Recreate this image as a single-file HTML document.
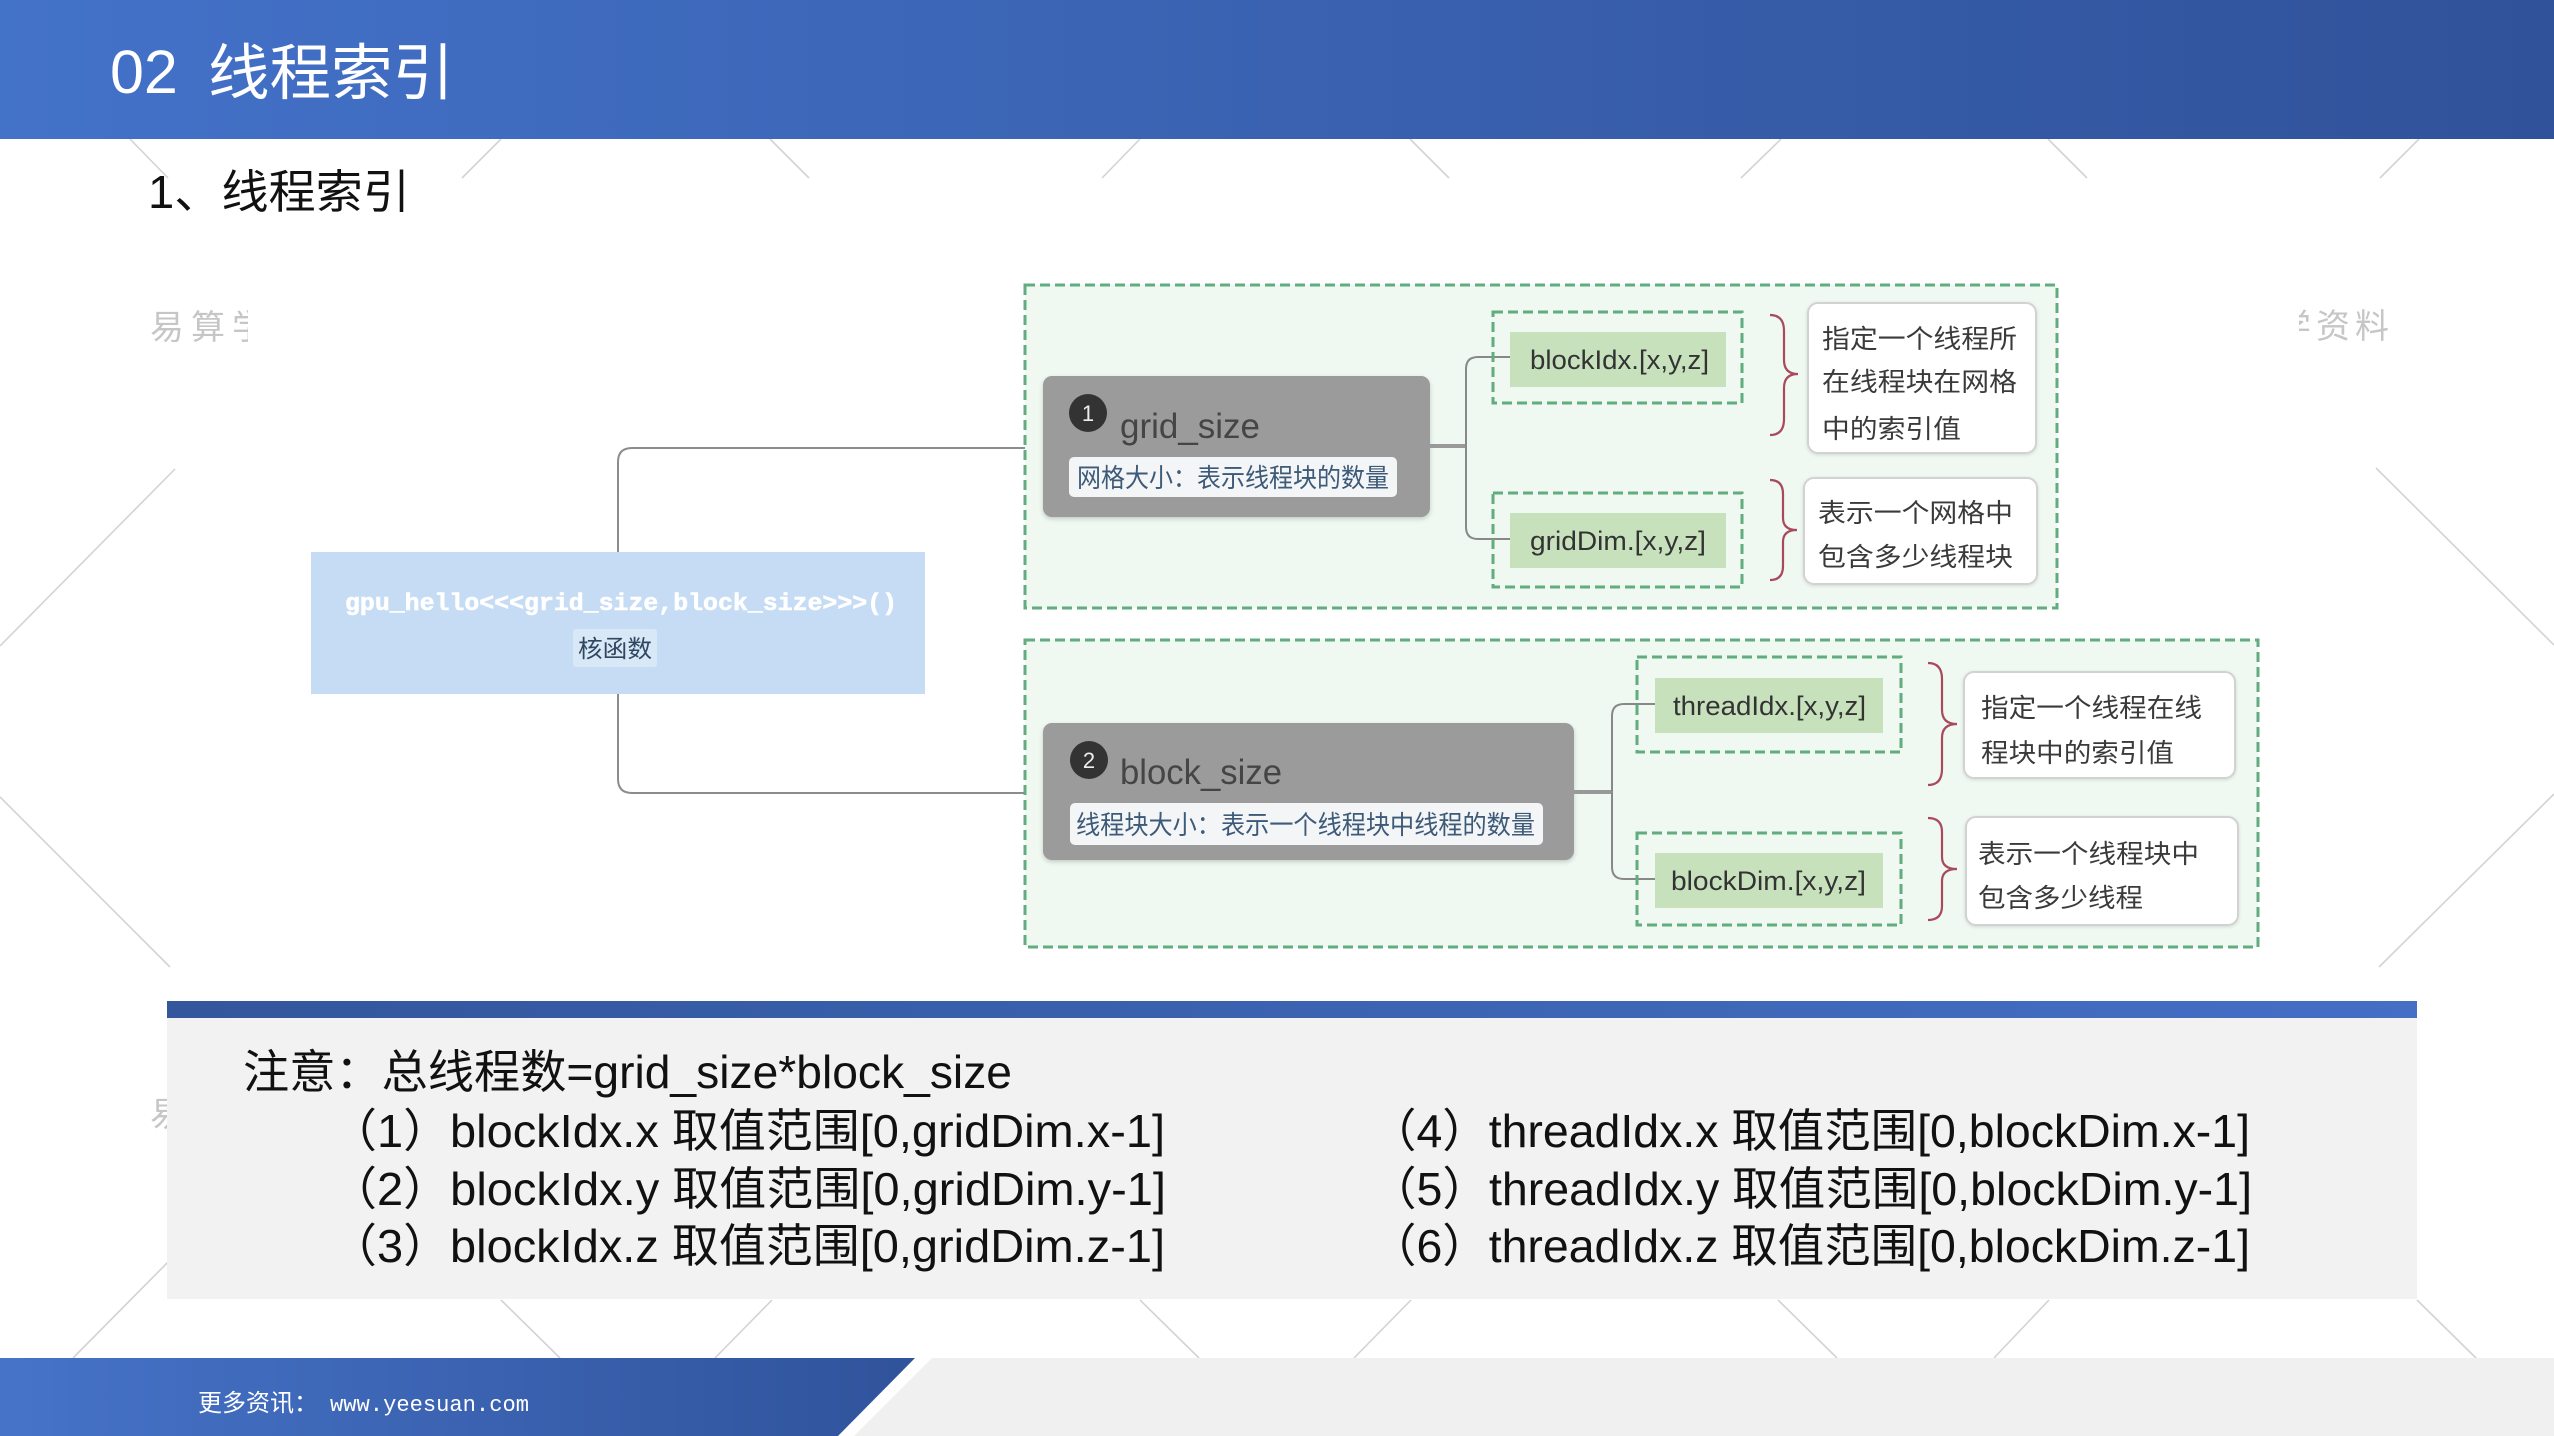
<!DOCTYPE html>
<html>
<head>
<meta charset="utf-8">
<style>
*{margin:0;padding:0;box-sizing:border-box}
html,body{width:2554px;height:1436px;overflow:hidden;background:#fff}
svg{position:absolute;left:0;top:0}
.s{font-family:"Liberation Sans","Noto Sans CJK SC",sans-serif}
.m{font-family:"Liberation Mono","Noto Sans CJK SC",monospace}
</style>
</head>
<body>
<svg width="2554" height="1436" viewBox="0 0 2554 1436" xmlns="http://www.w3.org/2000/svg" class="s">
<defs>
<linearGradient id="gh" x1="0" y1="0" x2="1" y2="0"><stop offset="0" stop-color="#4372c9"/><stop offset="0.5" stop-color="#3a62b1"/><stop offset="1" stop-color="#30529a"/></linearGradient>
<linearGradient id="gf" x1="0" y1="0" x2="1" y2="0"><stop offset="0" stop-color="#4673c8"/><stop offset="1" stop-color="#30539b"/></linearGradient>
<linearGradient id="gb" x1="0" y1="0" x2="1" y2="0"><stop offset="0" stop-color="#33569c"/><stop offset="1" stop-color="#446fc5"/></linearGradient>
<clipPath id="c1"><rect x="140" y="290" width="108" height="70"/></clipPath>
<clipPath id="c2"><rect x="2299" y="290" width="120" height="70"/></clipPath>
<filter id="sh" x="-5%" y="-10%" width="110%" height="125%"><feDropShadow dx="0" dy="2" stdDeviation="2" flood-color="#000" flood-opacity="0.18"/></filter>
<filter id="sh2" x="-5%" y="-10%" width="110%" height="125%"><feDropShadow dx="0" dy="1" stdDeviation="1.5" flood-color="#000" flood-opacity="0.12"/></filter>
</defs>

<!-- background decorative lines -->
<g stroke="#d3d3d3" stroke-width="1.6" fill="none">
<line x1="130" y1="139" x2="168" y2="178"/>
<line x1="501" y1="139" x2="462" y2="178"/>
<line x1="770" y1="139" x2="809" y2="178"/>
<line x1="1140" y1="139" x2="1102" y2="178"/>
<line x1="1410" y1="139" x2="1449" y2="178"/>
<line x1="1781" y1="139" x2="1741" y2="178"/>
<line x1="2048" y1="139" x2="2087" y2="178"/>
<line x1="2419" y1="139" x2="2380" y2="178"/>
<line x1="175" y1="469" x2="0" y2="646"/>
<line x1="0" y1="797" x2="170" y2="967"/>
<line x1="2376" y1="468" x2="2554" y2="645"/>
<line x1="2554" y1="794" x2="2379" y2="967"/>
<line x1="170" y1="1260" x2="73" y2="1358"/>
<line x1="501" y1="1300" x2="560" y2="1358"/>
<line x1="772" y1="1300" x2="715" y2="1358"/>
<line x1="1140" y1="1300" x2="1199" y2="1358"/>
<line x1="1411" y1="1300" x2="1354" y2="1358"/>
<line x1="1778" y1="1300" x2="1837" y2="1358"/>
<line x1="2049" y1="1300" x2="1994" y2="1358"/>
<line x1="2417" y1="1300" x2="2476" y2="1358"/>
</g>

<!-- watermarks -->
<g fill="#c6c6c6" font-size="34">
<text x="150" y="339" letter-spacing="7" clip-path="url(#c1)">易算学</text>
<text x="2277" y="338" letter-spacing="5" clip-path="url(#c2)">学资料</text>
<text x="150" y="1126">易</text>
</g>

<!-- header -->
<rect x="0" y="0" width="2554" height="139" fill="url(#gh)"/>
<text x="110" y="93" font-size="61" fill="#fff">02</text>
<text x="208" y="94" font-size="61" fill="#fff" textLength="246" lengthAdjust="spacingAndGlyphs">线程索引</text>

<!-- subtitle -->
<text x="148" y="208" font-size="46" fill="#111" textLength="262" lengthAdjust="spacingAndGlyphs">1、线程索引</text>

<!-- kernel box -->
<rect x="311" y="552" width="614" height="142" fill="#c6dcf5"/>
<text x="345" y="610" class="m" font-size="24" font-weight="700" fill="#ffffff" stroke="#ffffff" stroke-width="0.6" textLength="552" lengthAdjust="spacingAndGlyphs">gpu_hello&lt;&lt;&lt;grid_size,block_size&gt;&gt;&gt;()</text>
<rect x="573" y="629" width="84" height="38" rx="3" fill="#d9e8f7"/>
<text x="578" y="657" font-size="24" fill="#2f4760" textLength="74" lengthAdjust="spacingAndGlyphs">核函数</text>

<!-- kernel connectors -->
<g stroke="#8c8c8c" stroke-width="2" fill="none">
<path d="M618 552 V462 Q618 448 632 448 H1043"/>
<path d="M618 694 V779 Q618 793 632 793 H1043"/>
</g>

<!-- grid section -->
<rect x="1025" y="285" width="1032" height="323" fill="#eff8f1" stroke="#62ad7f" stroke-width="3" stroke-dasharray="10 5"/>
<!-- block section -->
<rect x="1025" y="640" width="1233" height="307" fill="#eff8f1" stroke="#62ad7f" stroke-width="3" stroke-dasharray="10 5"/>

<!-- grid node -->
<rect x="1043" y="376" width="387" height="141" rx="9" fill="#9b9b9b" filter="url(#sh)"/>
<circle cx="1088" cy="413" r="19" fill="#333"/>
<text x="1088" y="421" font-size="22" fill="#eee" text-anchor="middle">1</text>
<text x="1120" y="438" font-size="35" fill="#454545" textLength="140" lengthAdjust="spacingAndGlyphs">grid_size</text>
<rect x="1069" y="457" width="328" height="40" rx="5" fill="#f3f5f7"/>
<text x="1077" y="487" font-size="26" fill="#3d5a78" textLength="312" lengthAdjust="spacingAndGlyphs">网格大小：表示线程块的数量</text>

<!-- block node -->
<rect x="1043" y="723" width="531" height="137" rx="9" fill="#9b9b9b" filter="url(#sh)"/>
<circle cx="1089" cy="760" r="19" fill="#333"/>
<text x="1089" y="768" font-size="22" fill="#eee" text-anchor="middle">2</text>
<text x="1120" y="784" font-size="35" fill="#454545" textLength="162" lengthAdjust="spacingAndGlyphs">block_size</text>
<rect x="1070" y="803" width="473" height="42" rx="5" fill="#f3f5f7"/>
<text x="1076" y="834" font-size="26" fill="#3d5a78" textLength="459" lengthAdjust="spacingAndGlyphs">线程块大小：表示一个线程块中线程的数量</text>

<!-- node connectors -->
<g fill="none">
<path d="M1430 446 H1466" stroke="#999" stroke-width="4"/>
<path d="M1510 357 H1478 Q1466 357 1466 369 V527 Q1466 539 1478 539 H1510" stroke="#888" stroke-width="2"/>
<path d="M1574 792 H1612" stroke="#999" stroke-width="4"/>
<path d="M1655 704 H1624 Q1612 704 1612 716 V867 Q1612 879 1624 879 H1655" stroke="#888" stroke-width="2"/>
</g>

<!-- inner dashed boxes -->
<g fill="none" stroke="#62ad7f" stroke-width="3" stroke-dasharray="10 5">
<rect x="1493" y="312" width="249" height="91"/>
<rect x="1493" y="493" width="249" height="94"/>
<rect x="1637" y="657" width="264" height="95"/>
<rect x="1637" y="833" width="264" height="92"/>
</g>
<g fill="#c8e1bd">
<rect x="1510" y="332" width="216" height="55"/>
<rect x="1510" y="513" width="216" height="55"/>
<rect x="1655" y="678" width="228" height="55"/>
<rect x="1655" y="853" width="228" height="55"/>
</g>
<g font-size="27" fill="#333">
<text x="1530" y="369" textLength="179" lengthAdjust="spacingAndGlyphs">blockIdx.[x,y,z]</text>
<text x="1530" y="550" textLength="176" lengthAdjust="spacingAndGlyphs">gridDim.[x,y,z]</text>
<text x="1673" y="715" textLength="193" lengthAdjust="spacingAndGlyphs">threadIdx.[x,y,z]</text>
<text x="1671" y="890" textLength="195" lengthAdjust="spacingAndGlyphs">blockDim.[x,y,z]</text>
</g>

<!-- braces -->
<g fill="none" stroke="#a84a5c" stroke-width="2.2">
<path d="M1770 315 Q1784 315 1784 331 L1784 360 Q1784 374 1798 374 Q1784 374 1784 388 L1784 419 Q1784 435 1770 435"/>
<path d="M1770 480 Q1783 480 1783 494 L1783 518 Q1783 530 1797 530 Q1783 530 1783 542 L1783 566 Q1783 580 1770 580"/>
<path d="M1928 663 Q1942 663 1942 679 L1942 710 Q1942 724 1957 724 Q1942 724 1942 738 L1942 769 Q1942 785 1928 785"/>
<path d="M1928 818 Q1942 818 1942 832 L1942 857 Q1942 869 1957 869 Q1942 869 1942 881 L1942 906 Q1942 920 1928 920"/>
</g>

<!-- description boxes -->
<g fill="#fff" stroke="#d2d2d2" stroke-width="2" filter="url(#sh2)">
<rect x="1808" y="303" width="228" height="150" rx="10"/>
<rect x="1804" y="478" width="233" height="106" rx="10"/>
<rect x="1964" y="672" width="271" height="106" rx="10"/>
<rect x="1966" y="817" width="272" height="108" rx="10"/>
</g>
<g font-size="26" fill="#3a3a3a">
<text x="1822" y="348" textLength="195" lengthAdjust="spacingAndGlyphs">指定一个线程所</text>
<text x="1822" y="391" textLength="195" lengthAdjust="spacingAndGlyphs">在线程块在网格</text>
<text x="1822" y="438" textLength="139" lengthAdjust="spacingAndGlyphs">中的索引值</text>
<text x="1818" y="522" textLength="195" lengthAdjust="spacingAndGlyphs">表示一个网格中</text>
<text x="1818" y="566" textLength="195" lengthAdjust="spacingAndGlyphs">包含多少线程块</text>
<text x="1981" y="717" textLength="221" lengthAdjust="spacingAndGlyphs">指定一个线程在线</text>
<text x="1981" y="762" textLength="193" lengthAdjust="spacingAndGlyphs">程块中的索引值</text>
<text x="1978" y="863" textLength="221" lengthAdjust="spacingAndGlyphs">表示一个线程块中</text>
<text x="1978" y="907" textLength="165" lengthAdjust="spacingAndGlyphs">包含多少线程</text>
</g>

<!-- note box -->
<rect x="167" y="1001" width="2250" height="18" fill="url(#gb)"/>
<rect x="167" y="1018" width="2250" height="281" fill="#f2f2f2"/>
<g font-size="46" fill="#111">
<text x="243" y="1088" textLength="769" lengthAdjust="spacingAndGlyphs">注意：总线程数=grid_size*block_size</text>
<text x="330" y="1147" textLength="835" lengthAdjust="spacingAndGlyphs">（1）blockIdx.x 取值范围[0,gridDim.x-1]</text>
<text x="330" y="1205" textLength="836" lengthAdjust="spacingAndGlyphs">（2）blockIdx.y 取值范围[0,gridDim.y-1]</text>
<text x="330" y="1262" textLength="835" lengthAdjust="spacingAndGlyphs">（3）blockIdx.z 取值范围[0,gridDim.z-1]</text>
<text x="1370" y="1147" textLength="880" lengthAdjust="spacingAndGlyphs">（4）threadIdx.x 取值范围[0,blockDim.x-1]</text>
<text x="1370" y="1205" textLength="882" lengthAdjust="spacingAndGlyphs">（5）threadIdx.y 取值范围[0,blockDim.y-1]</text>
<text x="1370" y="1262" textLength="880" lengthAdjust="spacingAndGlyphs">（6）threadIdx.z 取值范围[0,blockDim.z-1]</text>
</g>

<!-- footer -->
<polygon points="0,1358 915,1358 838,1436 0,1436" fill="url(#gf)"/>
<polygon points="932,1358 2554,1358 2554,1436 854,1436" fill="#f0f0f0"/>
<text x="198" y="1411" font-size="24" fill="#fff" textLength="120" lengthAdjust="spacingAndGlyphs">更多资讯：</text>
<text x="330" y="1411" class="m" font-size="22" fill="#fff" textLength="199" lengthAdjust="spacingAndGlyphs">www.yeesuan.com</text>
</svg>
</body>
</html>
